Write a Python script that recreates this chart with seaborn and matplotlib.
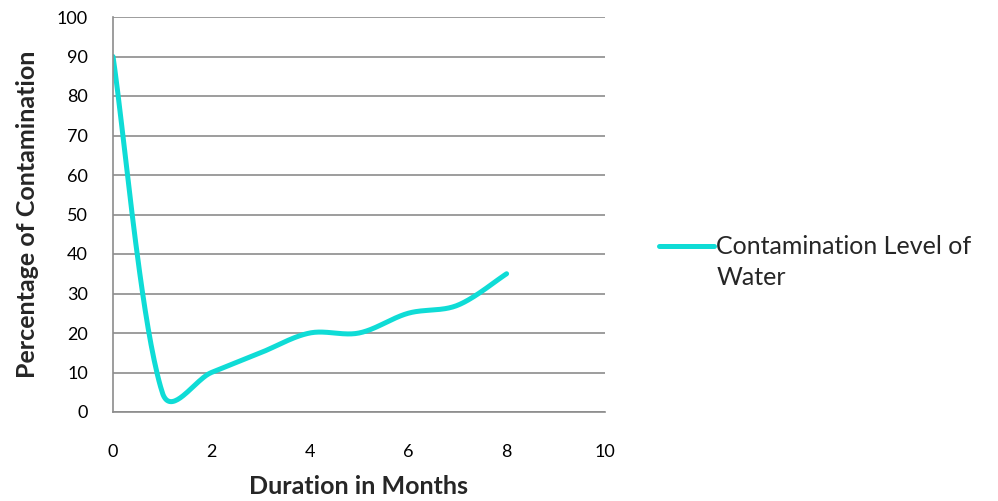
import numpy as np
import matplotlib
matplotlib.use('Agg')
import matplotlib.pyplot as plt
from matplotlib.legend_handler import HandlerLine2D
import seaborn as sns

months = [0, 1, 2, 3, 4, 5, 6, 7, 8]
contamination = [90, 5, 10, 15, 20, 20, 25, 27, 35]
series_label = 'Contamination Level of\nWater'


def smooth_curve(xs, ys, kx=49.2, ky=3.95, n=40):
    # spreadsheet-style smoothed line: bezier segments, control points
    # damped by on-screen segment lengths
    pts = np.column_stack([xs, ys]).astype(float)
    pts = np.vstack([pts[:1], pts, pts[-1:]])
    scale = np.array([kx, ky])

    def dist(a, b):
        return np.hypot(*((b - a) * scale))

    out = []
    t = np.linspace(0, 1, n)[:, None]
    for i in range(1, len(pts) - 2):
        p0, p1, p2, p3 = pts[i - 1], pts[i], pts[i + 1], pts[i + 2]
        d01, d12, d23 = dist(p0, p1), dist(p1, p2), dist(p2, p3)
        w1 = np.sqrt(0.5 * d12 / (d01 + d12))
        w2 = np.sqrt(0.5 * d12 / (d12 + d23))
        c1 = p1 + (p2 - p0) * w1 / 3
        c2 = p2 - (p3 - p1) * w2 / 3
        seg = ((1 - t) ** 3 * p1 + 3 * (1 - t) ** 2 * t * c1
               + 3 * (1 - t) * t ** 2 * c2 + t ** 3 * p2)
        out.append(seg)
    out = np.vstack(out)
    return out[:, 0], out[:, 1]


class RaisedLineHandler(HandlerLine2D):
    # keep the legend line level with the first line of the label
    def create_artists(self, *args, **kwargs):
        artists = super().create_artists(*args, **kwargs)
        for a in artists:
            a.set_ydata(np.asarray(a.get_ydata()) + 12)
        return artists


sns.set_style('white')
plt.rcParams['font.family'] = ['Lato', 'DejaVu Sans']

fig = plt.figure(figsize=(9.98, 5.01), dpi=100)
ax = fig.add_axes([113 / 998, 1 - 412 / 501, (605 - 113) / 998, (412 - 17) / 501])

sx, sy = smooth_curve(months, contamination)
sns.lineplot(x=sx, y=sy, sort=False, ax=ax, color='#0fdcd6', linewidth=3.6,
             solid_capstyle='round', label=series_label)

ax.set_xlim(0, 10)
ax.set_ylim(0, 100)
ax.set_xticks(range(0, 11, 2))
ax.set_yticks(range(0, 101, 10))
ax.grid(axis='y', color='#8c8c8c', linewidth=1.2)
ax.set_axisbelow(True)
for side in ['top', 'right']:
    ax.spines[side].set_visible(False)
for side in ['left', 'bottom']:
    ax.spines[side].set_color('#8c8c8c')
    ax.spines[side].set_linewidth(1.2)
ax.tick_params(axis='both', length=0, labelsize=13, colors='black')
ax.tick_params(axis='x', pad=23)
ax.tick_params(axis='y', pad=18)

ax.set_xlabel('Duration in Months', fontsize=18, fontweight='bold', va='center')
ax.xaxis.set_label_coords(0.498, (412 - 487) / 395)
ax.set_ylabel('Percentage of Contamination', fontsize=18, fontweight='bold', va='center')
ax.yaxis.set_label_coords((28 - 113) / 492, 0.5)

leg = ax.legend(loc='center left', bbox_to_anchor=(636 / 998, 1 - 262 / 501),
                bbox_transform=fig.transFigure, frameon=False,
                fontsize=18, handlelength=2.2, handletextpad=0.12,
                handler_map={matplotlib.lines.Line2D: RaisedLineHandler()})
for txt in leg.get_texts():
    txt.set_linespacing(1.4)

fig.savefig('out.png', dpi=100)
